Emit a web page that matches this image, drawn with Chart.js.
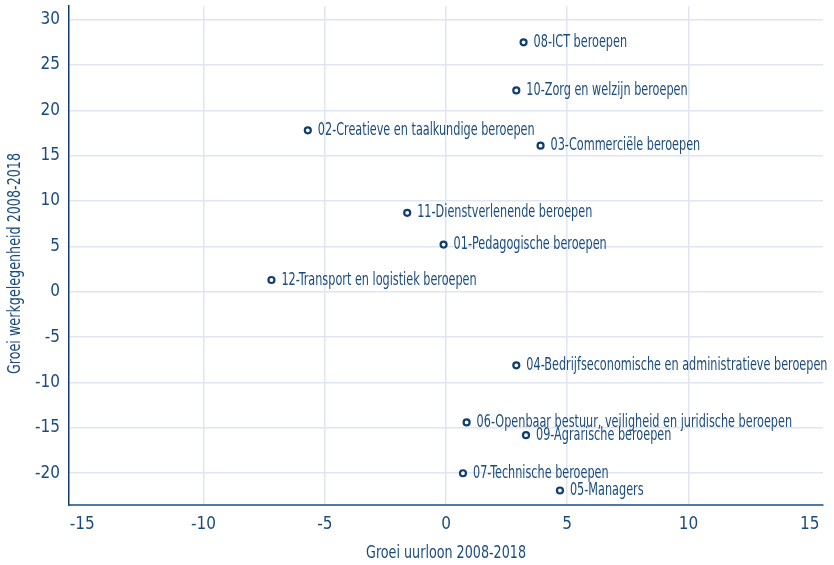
<!DOCTYPE html>
<html>
<head>
<meta charset="utf-8">
<script src="https://cdn.jsdelivr.net/npm/chart.js@4/dist/chart.umd.min.js"></script>
<style>
  html, body { margin: 0; padding: 0; background: #fff; }
  #wrap { width: 834px; height: 565px; }
</style>
</head>
<body>
<div id="wrap"><canvas id="c"></canvas></div>
<script>
const beroepen = [
  '01-Pedagogische beroepen',
  '02-Creatieve en taalkundige beroepen',
  '03-Commerciële beroepen',
  '04-Bedrijfseconomische en administratieve beroepen',
  '05-Managers',
  '06-Openbaar bestuur, veiligheid en juridische beroepen',
  '07-Technische beroepen',
  '08-ICT beroepen',
  '09-Agrarische beroepen',
  '10-Zorg en welzijn beroepen',
  '11-Dienstverlenende beroepen',
  '12-Transport en logistiek beroepen'
];
const groeiUurloon = [-0.1, -5.7, 3.9, 2.9, 4.7, 0.85, 0.7, 3.2, 3.3, 2.9, -1.6, -7.2];
const groeiWerk = [5.2, 17.8, 16.1, -8.1, -21.9, -14.4, -20.0, 27.5, -15.8, 22.2, 8.7, 1.3];
const xTicks = [-15, -10, -5, 0, 5, 10, 15];
const yTicks = [-20, -15, -10, -5, 0, 5, 10, 15, 20, 25, 30];
const xTitel = 'Groei uurloon 2008-2018';
const yTitel = 'Groei werkgelegenheid 2008-2018';

const FONT = "'Liberation Sans Narrow', 'DejaVu Sans Condensed', sans-serif";
const TEXT = '#1b4b7d';
const GRID = '#dfe5f1';

// condensed text (the original uses a narrow font)
function narrowText(ctx, txt, x, y, size, squeeze, align) {
  ctx.save();
  ctx.font = size + 'px ' + FONT;
  ctx.translate(x, y);
  ctx.scale(squeeze, 1);
  ctx.textAlign = align;
  ctx.fillText(txt, 0, 0);
  ctx.restore();
}

// point labels + axis titles
const labelsPlugin = {
  id: 'labelsPlugin',
  afterDatasetsDraw(chart) {
    const ctx = chart.ctx;
    const area = chart.chartArea;
    const meta = chart.getDatasetMeta(0);
    ctx.save();
    ctx.fillStyle = TEXT;
    ctx.textBaseline = 'middle';
    meta.data.forEach((el, i) => {
      narrowText(ctx, beroepen[i], el.x + 10, el.y, 17.5, 0.715, 'left');
    });

    narrowText(ctx, xTitel, (area.left + area.right) / 2, 553, 18.5, 0.765, 'center');

    ctx.save();
    ctx.translate(15, (area.top + area.bottom) / 2 + 8);
    ctx.rotate(-Math.PI / 2);
    narrowText(ctx, yTitel, 0, 0, 18.5, 0.765, 'center');
    ctx.restore();
    ctx.restore();
  }
};

new Chart(document.getElementById('c'), {
  type: 'scatter',
  data: {
    datasets: [{
      data: groeiUurloon.map((x, i) => ({ x, y: groeiWerk[i] })),
      pointRadius: 3,
      pointHoverRadius: 3,
      borderWidth: 2.2,
      borderColor: '#0f3d6e',
      backgroundColor: '#ffffff'
    }]
  },
  options: {
    responsive: true,
    maintainAspectRatio: false,
    animation: false,
    layout: { padding: { left: 0, top: 6, right: 11, bottom: 0 } },
    plugins: { legend: { display: false }, tooltip: { enabled: false } },
    scales: {
      x: {
        type: 'linear',
        min: -15.55,
        max: 15.55,
        afterBuildTicks: axis => { axis.ticks = xTicks.map(v => ({ value: v })); },
        afterFit: scale => {
          scale.height = 60;
          scale.paddingLeft = 0;
          scale.paddingRight = 0;
        },
        grid: {
          drawTicks: false,
          lineWidth: 1.5,
          color: c => (c.tick && Math.abs(c.tick.value) === 15) ? 'rgba(0,0,0,0)' : GRID
        },
        border: { color: '#4d7aa6', width: 2 },
        ticks: { color: TEXT, font: { family: FONT, size: 17 }, padding: 9 }
      },
      y: {
        type: 'linear',
        min: -23.5,
        max: 31.5,
        afterBuildTicks: axis => { axis.ticks = yTicks.map(v => ({ value: v })); },
        afterFit: scale => {
          scale.width = 69;
          scale.paddingTop = 0;
          scale.paddingBottom = 0;
        },
        grid: { drawTicks: false, lineWidth: 1.5, color: GRID },
        border: { color: '#0e3c6d', width: 1.5 },
        ticks: { color: TEXT, font: { family: FONT, size: 17 }, padding: 9 }
      }
    }
  },
  plugins: [labelsPlugin]
});
</script>
</body>
</html>
